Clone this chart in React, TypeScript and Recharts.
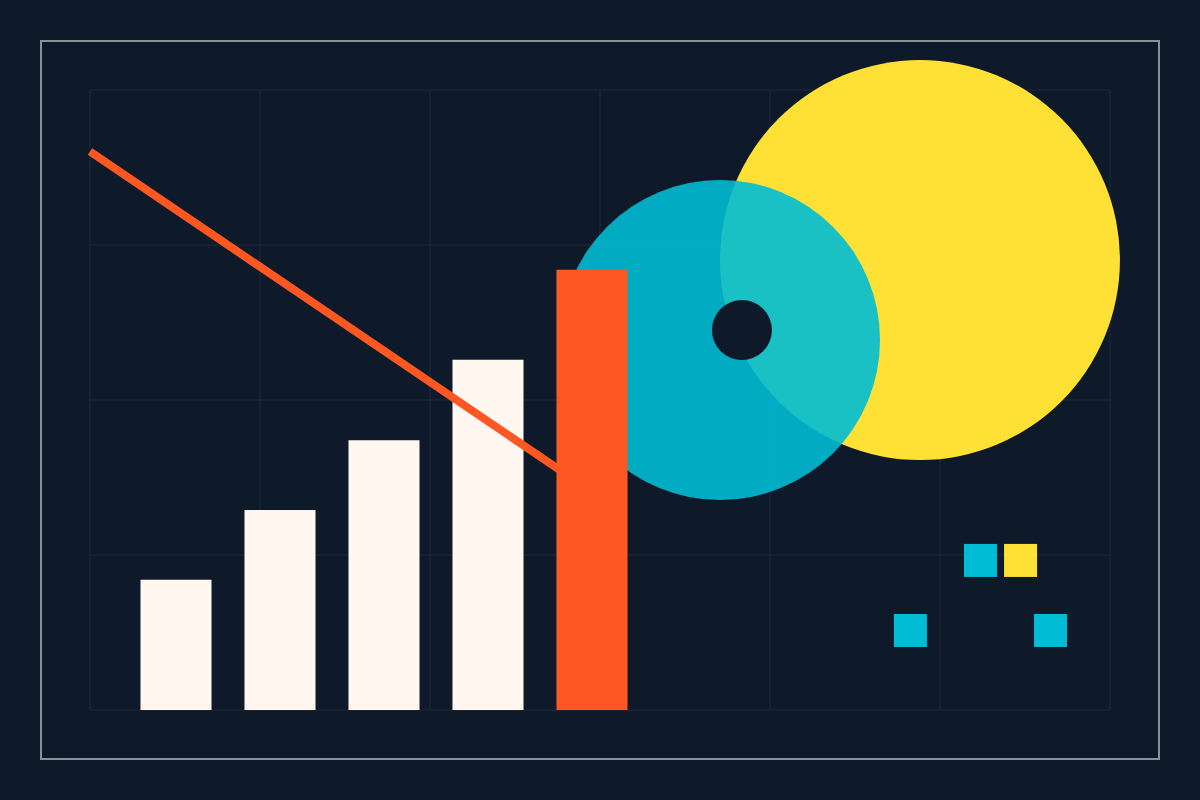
import React from "react";
import { ComposedChart, Bar, Line, Scatter, XAxis, YAxis, CartesianGrid } from "recharts";

// ---- data (x: 0..6 columns, y: 0..4 rows) ----
const barCategories = ["1", "2", "3", "4", "5"];
const whiteValues = [0.84, 1.29, 1.74, 2.26, null];
const orangeValues = [null, null, null, null, 2.84];

const trendX = [0, 2.95];
const trendY = [3.603, 1.41];

const yellowCircle = [{ x: 4.882, y: 2.903 }];
const cyanCircle = [{ x: 3.706, y: 2.387 }];
const holeCircle = [{ x: 3.835, y: 2.452 }];

const cyanSquares = [
  { x: 5.238, y: 0.965 },
  { x: 4.826, y: 0.513 },
  { x: 5.65, y: 0.513 },
];
const yellowSquares = [{ x: 5.474, y: 0.965 }];

const xTicks = [0, 1, 2, 3, 4, 5, 6];
const yTicks = [0, 1, 2, 3, 4];

// ---- styles ----
const BG = "#0e1a2a";
const GRID = "#1e2a3a";
const CREAM = "#fff7f0";
const ORANGE = "#ff5722";
const CYAN = "#00bcd4";
const YELLOW = "#ffe135";
const R_YELLOW = 200;
const R_CYAN = 160;
const R_HOLE = 30;
const SQ = 33;
const BAR_PAD = { left: 33.5, right: 466.5 };

const barData = barCategories.map((name, i) => ({ name, white: whiteValues[i], orange: orangeValues[i] }));
const trendData = trendX.map((x, i) => ({ x, y: trendY[i] }));

const circleShape = (r: number, fill: string, opacity = 1) => (props: any) => (
  <circle cx={props.cx} cy={props.cy} r={r} fill={fill} fillOpacity={opacity} />
);
const squareShape = (fill: string) => (props: any) => (
  <rect x={props.cx - SQ / 2} y={props.cy - SQ / 2} width={SQ} height={SQ} fill={fill} />
);

export default function App() {
  return (
    <div style={{ position: "fixed", left: 0, top: 0, width: 1200, height: 800, background: BG }}>
      <div
        style={{
          position: "absolute",
          left: 40,
          top: 40,
          width: 1116,
          height: 716,
          border: "2px solid #8a9097",
        }}
      />
      <div style={{ position: "absolute", left: 0, top: 0 }}>
        <ComposedChart
          width={1200}
          height={800}
          data={barData}
          margin={{ top: 90, right: 90, bottom: 90, left: 90 }}
        >
          <CartesianGrid xAxisId="num" stroke={GRID} strokeWidth={1} />
          <XAxis xAxisId="num" type="number" dataKey="x" domain={[0, 6]} ticks={xTicks} hide />
          <XAxis xAxisId="cat" type="category" dataKey="name" padding={BAR_PAD} hide />
          <YAxis type="number" domain={[0, 4]} ticks={yTicks} hide />
          <Scatter xAxisId="num" data={yellowCircle} dataKey="y" shape={circleShape(R_YELLOW, YELLOW)} isAnimationActive={false} zIndex={10} />
          <Scatter xAxisId="num" data={cyanCircle} dataKey="y" shape={circleShape(R_CYAN, CYAN, 0.9)} isAnimationActive={false} zIndex={11} />
          <Scatter xAxisId="num" data={holeCircle} dataKey="y" shape={circleShape(R_HOLE, BG)} isAnimationActive={false} zIndex={12} />
          <Bar xAxisId="cat" dataKey="white" stackId="s" fill={CREAM} barSize={71} isAnimationActive={false} zIndex={20} />
          <Line
            xAxisId="num"
            data={trendData}
            dataKey="y"
            type="linear"
            stroke={ORANGE}
            strokeWidth={8}
            dot={false}
            activeDot={false}
            isAnimationActive={false}
            zIndex={30}
          />
          <Bar xAxisId="cat" dataKey="orange" stackId="s" fill={ORANGE} barSize={71} isAnimationActive={false} zIndex={40} />
          <Scatter xAxisId="num" data={cyanSquares} dataKey="y" shape={squareShape(CYAN)} isAnimationActive={false} zIndex={50} />
          <Scatter xAxisId="num" data={yellowSquares} dataKey="y" shape={squareShape(YELLOW)} isAnimationActive={false} zIndex={50} />
        </ComposedChart>
      </div>
    </div>
  );
}
